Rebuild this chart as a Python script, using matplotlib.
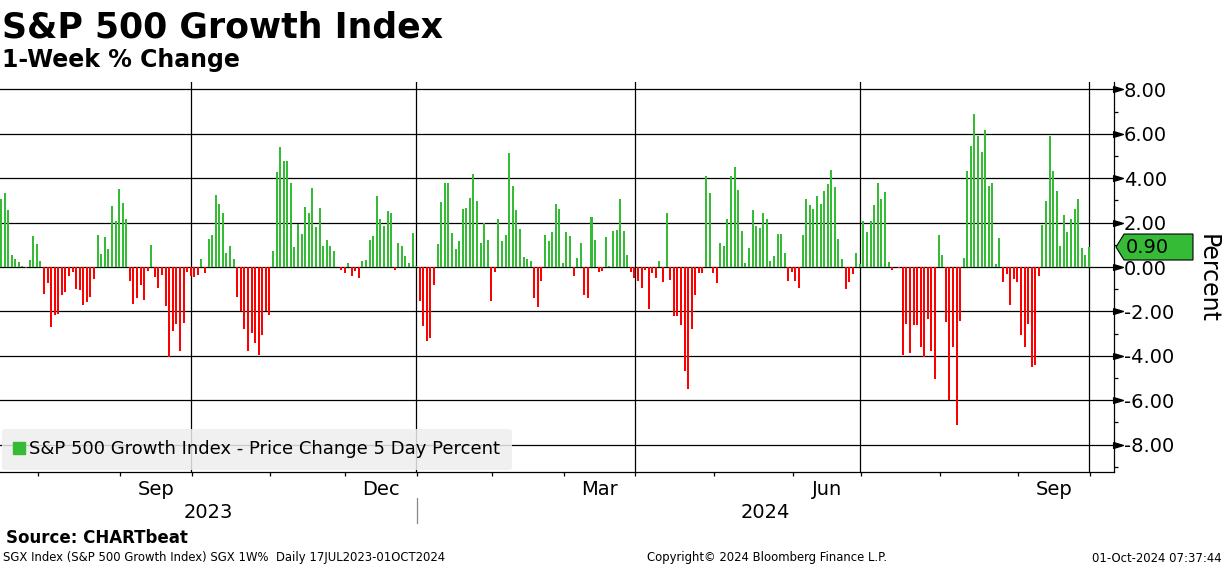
#!/usr/bin/env python3
import numpy as np
import pandas as pd
import matplotlib
matplotlib.use("Agg")
from matplotlib import pyplot as plt
from matplotlib.lines import Line2D
from matplotlib.patches import Polygon
from matplotlib.ticker import MultipleLocator, FixedLocator
import matplotlib.transforms as mtransforms

# trading days shown (Bloomberg drops market holidays)
start_date = "2023-07-17"
end_date = "2024-09-30"
holidays = ["2023-09-04", "2023-11-23", "2023-12-25", "2024-01-01", "2024-01-15",
            "2024-02-19", "2024-03-29", "2024-05-27", "2024-06-19", "2024-07-04",
            "2024-09-02"]

# 5 day % change, one list per quarter
q3_2023 = [3.05, 3.32, 2.55, 0.55, 0.36, 0.23, 0.06, -0.03, 0.32, 1.41,
           1.05, 0.27, -1.21, -0.71, -2.71, -2.17, -2.12, -1.26, -1.12, -0.39,
           -0.21, -0.98, -1.03, -1.71, -1.58, -1.35, -0.53, 1.45, 0.59, 1.36,
           0.82, 2.73, 2.05, 3.50, 2.86, 2.14, -0.62, -1.68, -1.39, -0.80,
           -1.48, -0.17, 1.00, -0.44, -0.94, -0.35, -1.76, -4.06, -2.89, -2.58,
           -3.80, -2.53, -0.21, -0.41]
q4_2023 = [-0.44, -0.35, 0.36, -0.26, 1.27, 1.45, 3.23, 2.82, 2.45, 0.64,
           0.95, 0.36, -1.35, -1.98, -2.80, -3.80, -2.98, -3.44, -3.98, -3.08,
           -1.98, -2.17, 0.73, 4.27, 5.41, 4.77, 4.77, 3.77, 0.91, 1.95,
           1.50, 2.68, 2.41, 3.55, 1.82, 2.64, 0.95, 1.23, 0.95, 0.73,
           0.02, -0.12, -0.26, 0.18, -0.39, -0.17, -0.48, 0.27, 0.32, 1.23,
           1.41, 3.18, 2.14, 1.86, 2.50, 2.45, -0.12, 1.09, 0.95, 0.50,
           0.18, 1.55, 0.03]
q1_2024 = [-1.55, -2.67, -3.35, -3.21, -0.80, 1.05, 2.91, 3.77, 3.77, 1.55,
           0.82, 1.18, 2.59, 2.64, 3.09, 4.18, 2.95, 1.09, 2.00, 1.23,
           -1.55, -0.21, 2.14, 1.18, 1.45, 5.14, 3.64, 2.55, 1.73, 0.45,
           0.36, 0.27, -1.39, -1.80, -0.62, 1.45, 1.18, 1.59, 2.82, 2.59,
           0.18, 1.59, 1.41, -0.39, 0.41, 1.09, -1.26, -1.39, 2.23, 1.23,
           -0.21, -0.17, 1.36, 0.05, 1.64, 1.68, 3.05, 1.64, 0.55, -0.21,
           -0.48]
q2_2024 = [-0.62, -0.94, -0.12, -1.89, -0.26, -0.48, 0.27, -0.67, 2.41, -0.58,
           -2.21, -2.21, -2.62, -4.67, -5.48, -2.80, -1.26, -0.26, -0.26, 4.09,
           3.32, -0.26, -0.71, 1.09, 0.95, 2.14, 4.09, 4.50, 3.45, 1.64,
           0.18, 0.86, 2.55, 1.86, 1.77, 2.41, 2.14, 0.27, 0.50, 1.50,
           1.50, 0.64, -0.62, -0.21, -0.62, -0.94, 1.45, 3.05, 2.77, 2.59,
           3.18, 2.82, 3.41, 3.73, 4.36, 3.59, 1.27, 0.36, -0.98, -0.67,
           -0.30, 0.64, 0.14]
q3_2024 = [2.09, 1.59, 2.05, 2.77, 3.77, 3.05, 3.36, 0.23, -0.12, 0.02,
           -0.03, -3.98, -2.58, -3.85, -2.62, -2.62, -3.62, -4.03, -2.35, -3.80,
           -5.03, 1.45, 0.55, -2.48, -5.98, -3.58, -7.12, -2.44, 0.41, 4.32,
           5.45, 6.91, 5.91, 5.18, 6.18, 3.64, 3.77, 0.14, 1.32, -0.67,
           -0.30, -1.71, -0.53, -0.67, -3.08, -3.58, -2.58, -4.48, -4.39, -0.39,
           1.91, 2.95, 5.91, 4.32, 3.41, 0.95, 2.36, 1.59, 2.14, 2.59,
           3.05, 0.86, 0.55, 0.90]

pct_change = q3_2023 + q4_2023 + q1_2024 + q2_2024 + q3_2024

y_ticks = [-8, -6, -4, -2, 0, 2, 4, 6, 8]
labelled_months = [(2023, 9, "Sep"), (2023, 12, "Dec"), (2024, 3, "Mar"),
                   (2024, 6, "Jun"), (2024, 9, "Sep")]
quarter_ends = [(2023, 9), (2023, 12), (2024, 3), (2024, 6), (2024, 9)]

GREEN = "#35bb35"
RED = "#ff0000"

plt.rcParams["font.family"] = ["DejaVu Sans"]
plt.rcParams["axes.unicode_minus"] = False

dates = pd.bdate_range(start_date, end_date)
dates = dates[~dates.isin(pd.to_datetime(holidays))]
n = min(len(dates), len(pct_change))
dates = dates[:n]
vals = np.array(pct_change[:n])
x = np.arange(n)

# index of last trading day in each month
idx = pd.Series(x, index=dates)
month_end = idx.groupby([dates.year, dates.month]).max()

W, H = 1224, 566
fig = plt.figure(figsize=(W / 100, H / 100), dpi=100)
ax_l, ax_r, ax_t, ax_b = 0, 1114, 82, 472
ax = fig.add_axes([ax_l / W, 1 - ax_b / H, (ax_r - ax_l) / W, (ax_b - ax_t) / H])

colors = np.where(vals >= 0, GREEN, RED)
ax.bar(x, vals, width=0.56, color=colors, zorder=3, linewidth=0)

ax.set_xlim(-0.28, 311.0)
ax.set_ylim(-9.23, 8.33)

# grid
for yv in y_ticks:
    ax.axhline(yv, color="black", lw=0.9, zorder=2)
for yr, m in quarter_ends:
    ax.axvline(month_end[(yr, m)] + 0.1, color="black", lw=0.9, zorder=2)

# spines
for s in ["top", "left"]:
    ax.spines[s].set_visible(False)
ax.spines["right"].set_linewidth(0.9)
ax.spines["bottom"].set_linewidth(0.9)

# y axis on the right
ax.yaxis.tick_right()
ax.yaxis.set_major_locator(FixedLocator(y_ticks))
ax.yaxis.set_minor_locator(MultipleLocator(1))
ax.set_yticklabels([f"{v:.2f}" for v in y_ticks])
ax.tick_params(axis="y", which="major", length=0, pad=7, labelsize=14)
ax.tick_params(axis="y", which="minor", length=3, width=0.9, direction="out")
btrans = mtransforms.blended_transform_factory(ax.transAxes, ax.transData)
arrow = [(-1, 0.6), (1, 0), (-1, -0.6), (-1, 0.6)]
ax.plot([1.0036] * len(y_ticks), y_ticks, linestyle="none", marker=arrow,
        markersize=7, color="black", transform=btrans, clip_on=False, zorder=5)

# x axis: month ticks, labels centred in month
ax.set_xticks([v + 0.25 for v in month_end.values])
ax.set_xticklabels([])
ax.tick_params(axis="x", which="major", length=3, width=0.9, direction="out")
xtrans = mtransforms.blended_transform_factory(ax.transData, ax.transAxes)
for yr, m, lab in labelled_months:
    prev = month_end[(yr, m - 1)] if m > 1 else month_end[(yr - 1, 12)]
    xc = (prev + month_end[(yr, m)]) / 2 + 0.25
    ax.text(xc, -0.059, lab, transform=xtrans, ha="center", va="baseline", fontsize=14)

jan = month_end[(2023, 12)] + 0.25
ax.text((ax.get_xlim()[0] + jan) / 2, -0.118, "2023", transform=xtrans,
        ha="center", va="baseline", fontsize=14)
ax.text((jan + ax.get_xlim()[1]) / 2, -0.118, "2024", transform=xtrans,
        ha="center", va="baseline", fontsize=14)
ax.axvline(jan, ymin=-0.131, ymax=-0.067, color="#888888", lw=0.9, clip_on=False)

# last value tag
last = vals[-1]
tag = Polygon([(1.0018, last), (1.009, last + 0.585), (1.0709, last + 0.585),
               (1.0709, last - 0.585), (1.009, last - 0.585)], closed=True,
              facecolor=GREEN, edgecolor="black", lw=0.8, transform=btrans,
              clip_on=False, zorder=6)
ax.add_patch(tag)
ax.text(1.0105, last, f"{last:.2f}", transform=btrans, ha="left", va="center",
        fontsize=14, zorder=7)

fig.text(1208 / W, 1 - 279 / H, "Percent", rotation=270, ha="center", va="center",
         fontsize=17)

# legend
handle = Line2D([], [], linestyle="none", marker="s", markersize=8,
                markerfacecolor=GREEN, markeredgecolor=GREEN)
leg = ax.legend([handle], ["S&P 500 Growth Index - Price Change 5 Day Percent"],
                loc="lower left", bbox_to_anchor=(0.0, 0.0), borderaxespad=0.1,
                fontsize=13, handlelength=0.6, handletextpad=0.25, borderpad=0.65,
                fancybox=True, framealpha=0.85, facecolor="#eeeeee", edgecolor="none")
leg.set_zorder(4)

# titles and footer
fig.text(2 / W, 1 - 37.3 / H, "S&P 500 Growth Index", fontsize=25,
         fontweight="bold", ha="left", va="baseline")
fig.text(2 / W, 1 - 66.7 / H, "1-Week % Change", fontsize=17,
         fontweight="bold", ha="left", va="baseline")
fig.text(6 / W, 1 - 542.7 / H, "Source: CHARTbeat", fontsize=12,
         fontweight="bold", ha="left", va="baseline")
fig.text(3 / W, 1 - 561.5 / H,
         "SGX Index (S&P 500 Growth Index) SGX 1W%  Daily 17JUL2023-01OCT2024",
         fontsize=8.4, ha="left", va="baseline")
fig.text(767 / W, 1 - 561.5 / H, "Copyright\u00a9 2024 Bloomberg Finance L.P.",
         fontsize=8.4, ha="center", va="baseline")
fig.text(1222 / W, 1 - 561.5 / H, "01-Oct-2024 07:37:44", fontsize=8.4,
         ha="right", va="baseline")

fig.savefig("out.png", dpi=100)
